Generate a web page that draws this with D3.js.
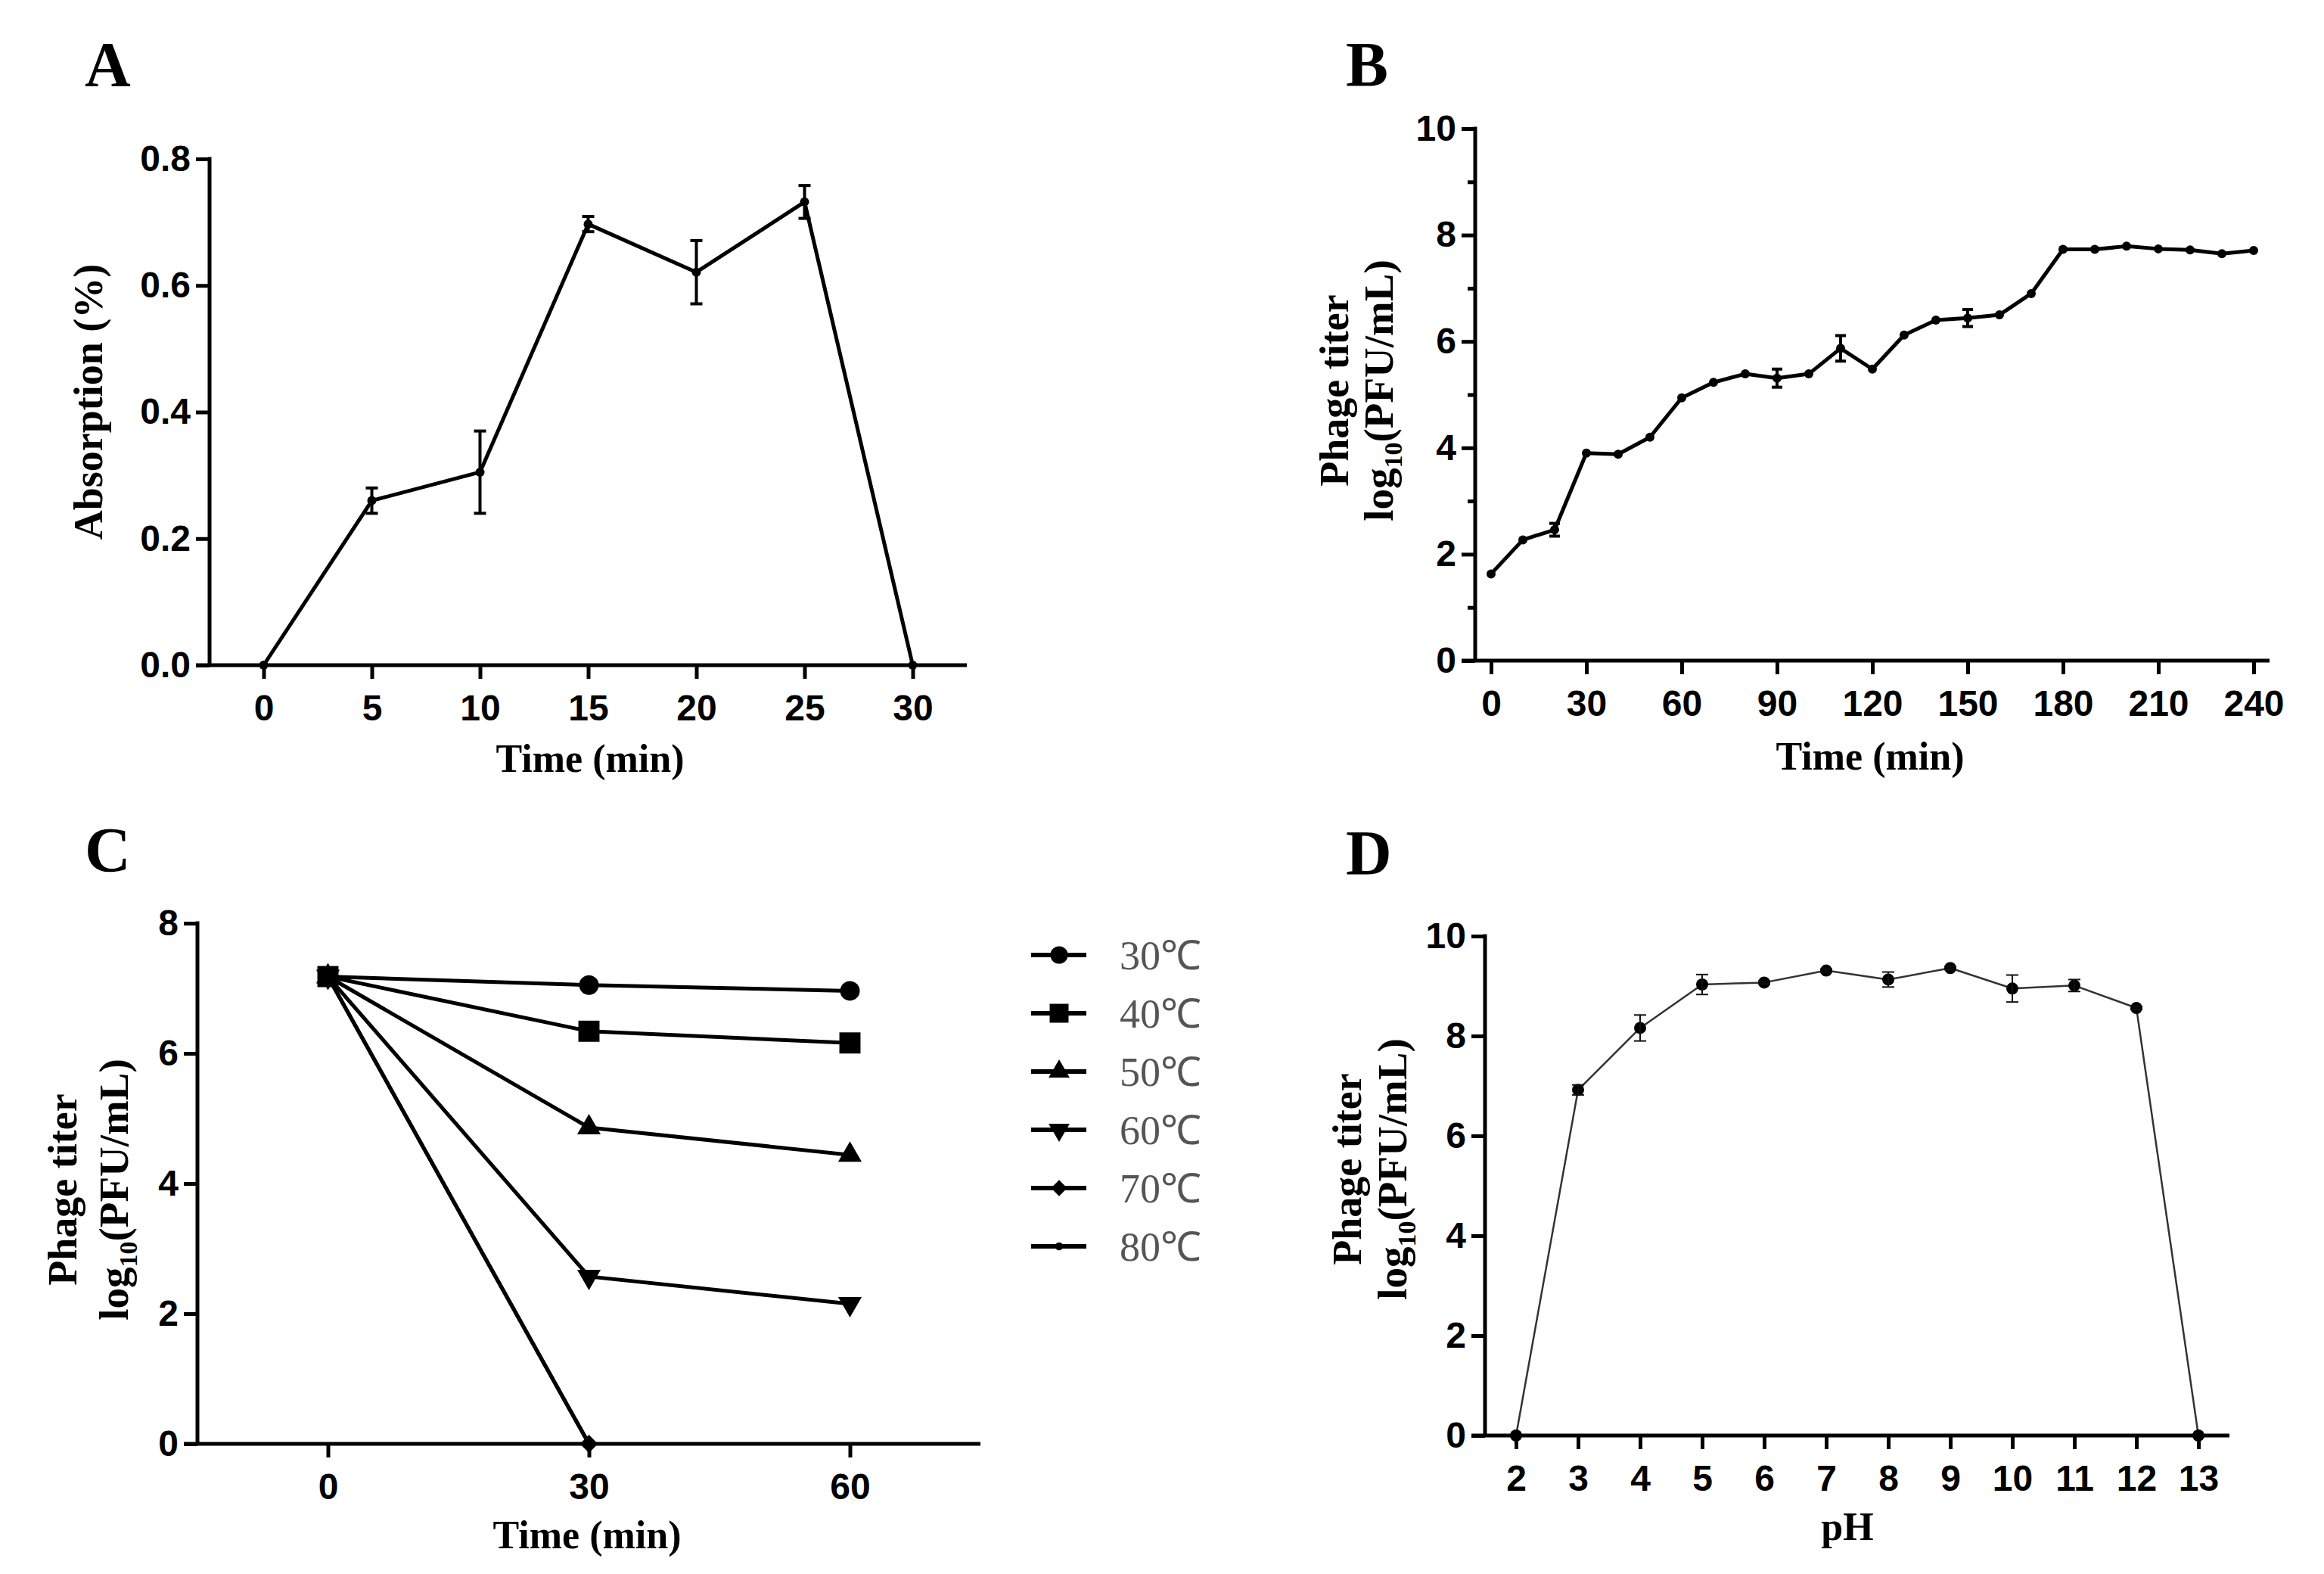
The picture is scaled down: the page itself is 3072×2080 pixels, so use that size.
<!DOCTYPE html>
<html>
<head>
<meta charset="utf-8">
<script src="https://cdn.jsdelivr.net/npm/d3@7"></script>
<style>
  body { margin: 0; background: #fff; }
</style>
</head>
<body>
<div id="fig"></div>
<script>
// ---- A: adsorption ----
const adsTime = [0, 5, 10, 15, 20, 25, 30];
const adsValue = [0, 0.26, 0.305, 0.697, 0.621, 0.732, 0];
const adsErr = [0, 0.02, 0.065, 0.012, 0.05, 0.026, 0];

// ---- B: one-step growth curve ----
const growTime = [0, 10, 20, 30, 40, 50, 60, 70, 80, 90, 100, 110, 120,
  130, 140, 150, 160, 170, 180, 190, 200, 210, 220, 230, 240];
const growTiter = [1.63, 2.27, 2.46, 3.9, 3.88, 4.2, 4.94, 5.23, 5.39, 5.31, 5.39, 5.87, 5.48,
  6.12, 6.4, 6.44, 6.5, 6.9, 7.73, 7.73, 7.79, 7.74, 7.72, 7.65, 7.71];
const growErr = [0, 0, 0.12, 0, 0, 0, 0, 0, 0, 0.17, 0, 0.24, 0,
  0, 0, 0.16, 0, 0, 0, 0, 0, 0, 0, 0, 0];

// ---- C: thermal stability ----
const tempTime = [0, 30, 60];
const tempLabels = ["30℃", "40℃", "50℃", "60℃", "70℃", "80℃"];
const temp30 = [7.18, 7.05, 6.96];
const temp40 = [7.18, 6.34, 6.16];
const temp50 = [7.18, 4.86, 4.44];
const temp60 = [7.18, 2.57, 2.15];
const temp70 = [7.18, 0];
const temp80 = [7.18, 0];

// ---- D: pH stability ----
const phLevels = [2, 3, 4, 5, 6, 7, 8, 9, 10, 11, 12, 13];
const phTiter = [0, 6.92, 8.16, 9.03, 9.07, 9.31, 9.13, 9.36, 8.95, 9.01, 8.56, 0];
const phErr = [0, 0.1, 0.26, 0.2, 0.03, 0.03, 0.15, 0.03, 0.27, 0.12, 0.03, 0];

const W = 3072, H = 2080;
const tickFont = "'Liberation Sans', Arial, sans-serif";
const serif = "'Liberation Serif', 'Times New Roman', serif";
const TICK = 18;

const svg = d3.select("#fig").append("svg")
    .attr("width", W)
    .attr("height", H)
    .style("background", "#fff");

// builds scales + Prism-like axes for one panel
function makePanel(o) {
  const x = d3.scaleLinear().domain(o.xDomain).range([o.left, o.right]);
  const y = d3.scaleLinear().domain(o.yDomain).range([o.bottom, o.top]);
  const g = svg.append("g");

  const ya = g.append("g")
      .attr("transform", `translate(${o.left},0)`)
      .call(d3.axisLeft(y).tickValues(o.yTicks).tickFormat(o.yFormat || d3.format("d"))
        .tickSize(TICK).tickSizeOuter(0).tickPadding(7));
  const xa = g.append("g")
      .attr("transform", `translate(0,${o.bottom})`)
      .call(d3.axisBottom(x).tickValues(o.xTicks).tickFormat(d3.format("d"))
        .tickSize(TICK).tickSizeOuter(0).tickPadding(21));

  if (o.yMinor) {
    g.append("g")
        .attr("transform", `translate(${o.left},0)`)
        .call(d3.axisLeft(y).tickValues(o.yMinor).tickFormat("").tickSize(10).tickSizeOuter(0))
        .call(a => a.select(".domain").remove())
        .selectAll("line").attr("stroke", "#000").attr("stroke-width", 5);
  }

  [ya, xa].forEach(a => {
    a.select(".domain").remove();
    a.selectAll("line").attr("stroke", "#000").attr("stroke-width", 5);
    a.selectAll("text")
        .attr("font-family", tickFont)
        .attr("font-weight", "bold")
        .attr("font-size", 48)
        .attr("fill", "#000");
  });

  // axis lines (x line runs out to the end of the y ticks)
  g.append("line")
      .attr("x1", o.left).attr("x2", o.left)
      .attr("y1", y(o.yDomain[1]) - 2.5).attr("y2", o.bottom)
      .attr("stroke", "#000").attr("stroke-width", 5);
  g.append("line")
      .attr("x1", o.left - TICK).attr("x2", o.right)
      .attr("y1", o.bottom).attr("y2", o.bottom)
      .attr("stroke", "#000").attr("stroke-width", 5);

  // panel letter
  svg.append("text")
      .attr("x", o.letterX).attr("y", o.letterY)
      .attr("font-family", serif).attr("font-weight", "bold")
      .attr("font-size", 84)
      .text(o.letter);

  // x title
  svg.append("text")
      .attr("x", o.xTitleX).attr("y", o.xTitleY)
      .attr("text-anchor", "middle")
      .attr("font-family", serif).attr("font-weight", "bold")
      .attr("font-size", 52)
      .text(o.xTitle);

  return { g, x, y };
}

function titerLabel(x1, x2, cy) {
  svg.append("text")
      .attr("transform", `translate(${x1},${cy}) rotate(-90)`)
      .attr("text-anchor", "middle").attr("dy", "0.35em")
      .attr("font-family", serif).attr("font-weight", "bold").attr("font-size", 54)
      .text("Phage titer");
  const t = svg.append("text")
      .attr("transform", `translate(${x2},${cy}) rotate(-90)`)
      .attr("text-anchor", "middle")
      .attr("font-family", serif).attr("font-weight", "bold").attr("font-size", 55);
  t.append("tspan").attr("dy", "0.35em").text("log");
  t.append("tspan").attr("font-size", 34).attr("dy", 12).text("10");
  t.append("tspan").attr("dy", -12).text("(PFU/mL)");
}

function errorBars(p, xs, vs, es, opts) {
  const d = xs.map((t, i) => ({ t, v: vs[i], e: es[i] })).filter(d => d.e > 0);
  const eg = p.g.append("g").attr("stroke", opts.color).attr("stroke-width", opts.width);
  eg.selectAll("line.bar").data(d).join("line").attr("class", "bar")
      .attr("x1", d => p.x(d.t)).attr("x2", d => p.x(d.t))
      .attr("y1", d => p.y(d.v - d.e)).attr("y2", d => p.y(d.v + d.e));
  [1, -1].forEach(s => {
    eg.selectAll("line.cap" + (s > 0 ? "u" : "l")).data(d).join("line")
        .attr("class", "cap" + (s > 0 ? "u" : "l"))
        .attr("x1", d => p.x(d.t) - opts.cap).attr("x2", d => p.x(d.t) + opts.cap)
        .attr("y1", d => p.y(d.v + s * d.e)).attr("y2", d => p.y(d.v + s * d.e));
  });
}

function lineWithDots(p, xs, vs, opts) {
  const pts = xs.map((t, i) => [t, vs[i]]);
  p.g.append("path")
      .datum(pts)
      .attr("fill", "none")
      .attr("stroke", opts.color)
      .attr("stroke-width", opts.width)
      .attr("stroke-linejoin", "round")
      .attr("d", d3.line().x(d => p.x(d[0])).y(d => p.y(d[1])));
  p.g.append("g").selectAll("circle").data(pts).join("circle")
      .attr("cx", d => p.x(d[0])).attr("cy", d => p.y(d[1]))
      .attr("r", opts.r).attr("fill", "#000");
}

// ---------- Panel A ----------
const pA = makePanel({
  left: 277, right: 1278, top: 210, bottom: 879,
  xDomain: [-2.5, 32.5], yDomain: [0, 0.8],
  xTicks: adsTime, yTicks: [0, 0.2, 0.4, 0.6, 0.8], yFormat: d3.format(".1f"),
  letter: "A", letterX: 112, letterY: 114,
  xTitle: "Time (min)", xTitleX: 780, xTitleY: 1020
});
svg.append("text")
    .attr("transform", `translate(116,531) rotate(-90)`)
    .attr("text-anchor", "middle").attr("dy", "0.35em")
    .attr("font-family", serif).attr("font-weight", "bold").attr("font-size", 54)
    .text("Absorption (%)");
lineWithDots(pA, adsTime, adsValue, { color: "#000", width: 5, r: 6 });
errorBars(pA, adsTime, adsValue, adsErr, { color: "#000", width: 4, cap: 8 });

// ---------- Panel B ----------
const pB = makePanel({
  left: 1950, right: 3000, top: 170, bottom: 873,
  xDomain: [-5, 245], yDomain: [0, 10],
  xTicks: d3.range(0, 241, 30), yTicks: [0, 2, 4, 6, 8, 10], yMinor: [1, 3, 5, 7, 9],
  letter: "B", letterX: 1779, letterY: 114,
  xTitle: "Time (min)", xTitleX: 2472, xTitleY: 1017
});
titerLabel(1763, 1822, 516);
lineWithDots(pB, growTime, growTiter, { color: "#000", width: 5, r: 6 });
errorBars(pB, growTime, growTiter, growErr, { color: "#000", width: 4, cap: 7 });

// ---------- Panel C ----------
const pC = makePanel({
  left: 261, right: 1296, top: 1220, bottom: 1908,
  xDomain: [-15, 75], yDomain: [0, 8],
  xTicks: tempTime, yTicks: [0, 2, 4, 6, 8],
  letter: "C", letterX: 112, letterY: 1152,
  xTitle: "Time (min)", xTitleX: 776, xTitleY: 2046
});
titerLabel(82, 150, 1572);

const tempSeries = [temp30, temp40, temp50, temp60, temp70, temp80];
const tempSymbols = [
  { type: d3.symbolCircle, size: 530, rot: 0 },
  { type: d3.symbolSquare, size: 780, rot: 0 },
  { type: d3.symbolTriangle, size: 420, rot: 0 },
  { type: d3.symbolTriangle, size: 420, rot: 180 },
  { type: d3.symbolDiamond2 || d3.symbolDiamond, size: 360, rot: 0 },
  { type: d3.symbolCircle, size: 110, rot: 0 }
];

tempSeries.forEach(vals => {
  const pts = vals.map((v, i) => [tempTime[i], v]);
  pC.g.append("path")
      .datum(pts)
      .attr("fill", "none").attr("stroke", "#000").attr("stroke-width", 5)
      .attr("d", d3.line().x(d => pC.x(d[0])).y(d => pC.y(d[1])));
});
// draw the markers with the square last so it sits on top at t = 0
[0, 2, 3, 4, 5, 1].forEach(k => {
  const s = tempSymbols[k];
  pC.g.append("g").selectAll("path").data(tempSeries[k].map((v, i) => [tempTime[i], v])).join("path")
      .attr("transform", d => `translate(${pC.x(d[0])},${pC.y(d[1])}) rotate(${s.rot})`)
      .attr("d", d3.symbol().type(s.type).size(s.size))
      .attr("fill", "#000");
});

// legend for C
const legend = svg.append("g").attr("transform", "translate(1363,1262)");
tempLabels.forEach((lab, k) => {
  const s = tempSymbols[k];
  const row = legend.append("g").attr("transform", `translate(0,${k * 77})`);
  row.append("line").attr("x1", 0).attr("x2", 73).attr("y1", 0).attr("y2", 0)
      .attr("stroke", "#000").attr("stroke-width", 6);
  row.append("path")
      .attr("transform", `translate(37,0) rotate(${s.rot})`)
      .attr("d", d3.symbol().type(s.type).size(s.size * 0.8))
      .attr("fill", "#000");
  row.append("text")
      .attr("x", 117).attr("dy", "0.35em")
      .attr("font-family", serif).attr("font-size", 54)
      .attr("fill", "#555")
      .text(lab);
});

// ---------- Panel D ----------
const pD = makePanel({
  left: 1963, right: 2947, top: 1237, bottom: 1897,
  xDomain: [1.5, 13.5], yDomain: [0, 10],
  xTicks: phLevels, yTicks: [0, 2, 4, 6, 8, 10],
  letter: "D", letterX: 1779, letterY: 1156,
  xTitle: "pH", xTitleX: 2442, xTitleY: 2035
});
titerLabel(1780, 1840, 1545);
lineWithDots(pD, phLevels, phTiter, { color: "#333", width: 2.5, r: 8 });
errorBars(pD, phLevels, phTiter, phErr, { color: "#111", width: 2, cap: 8 });
</script>
</body>
</html>
